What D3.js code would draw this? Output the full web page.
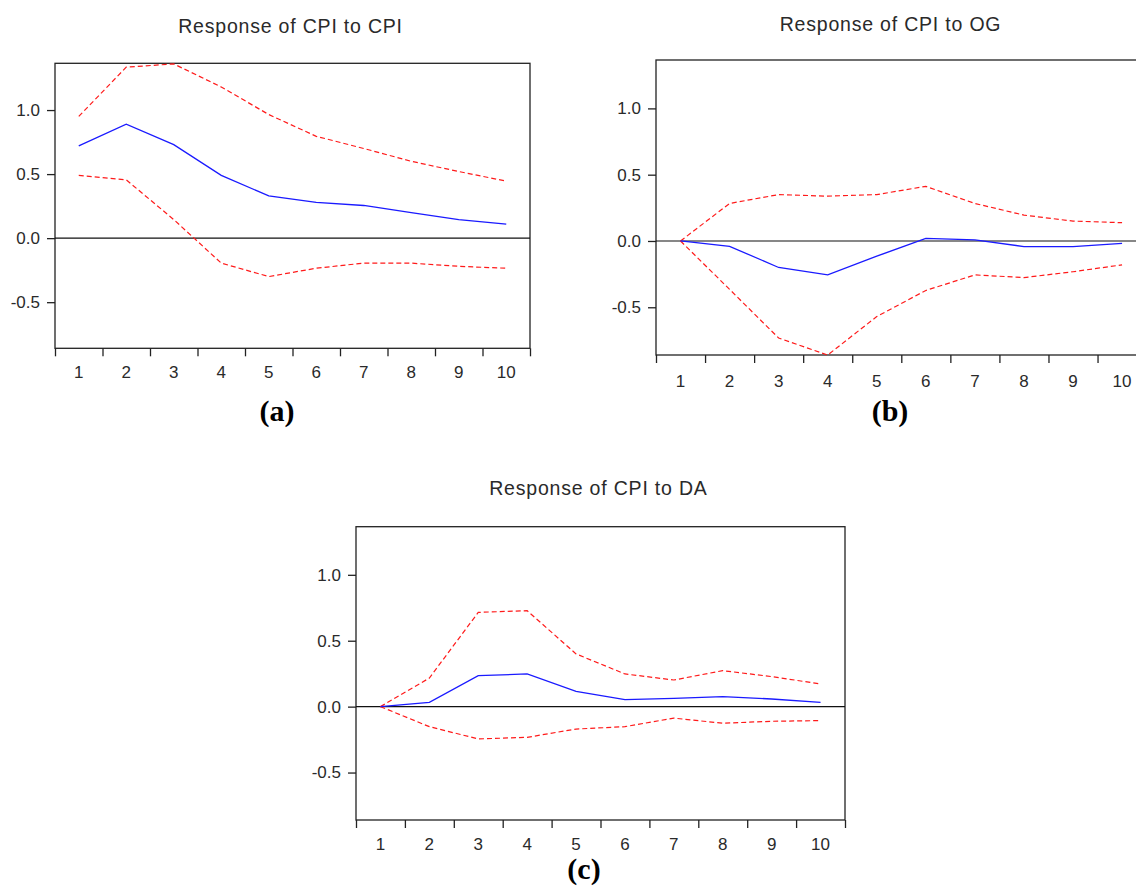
<!DOCTYPE html>
<html>
<head>
<meta charset="utf-8">
<script src="https://cdn.jsdelivr.net/npm/d3@7"></script>
<style>
  body { margin: 0; background: #fff; }
  svg { display: block; }
  .domain { display: none; }
</style>
</head>
<body>
<div id="chart"></div>
<script>
// Impulse responses (periods 1..10)
const periods = [1, 2, 3, 4, 5, 6, 7, 8, 9, 10];
const yTicks = [-0.5, 0.0, 0.5, 1.0];

const cpiToCpi = [0.72, 0.89, 0.73, 0.49, 0.33, 0.28, 0.255, 0.20, 0.145, 0.11];
const cpiToCpiUpper = [0.95, 1.335, 1.36, 1.18, 0.965, 0.795, 0.70, 0.60, 0.52, 0.445];
const cpiToCpiLower = [0.49, 0.455, 0.145, -0.195, -0.30, -0.235, -0.195, -0.195, -0.22, -0.235];

const cpiToOg = [0.0, -0.04, -0.20, -0.255, -0.115, 0.02, 0.008, -0.042, -0.042, -0.018];
const cpiToOgUpper = [0.0, 0.283, 0.35, 0.338, 0.35, 0.412, 0.283, 0.195, 0.15, 0.138];
const cpiToOgLower = [0.0, -0.365, -0.732, -0.86, -0.57, -0.373, -0.256, -0.276, -0.232, -0.18];

const cpiToDa = [0.0, 0.033, 0.235, 0.248, 0.116, 0.053, 0.063, 0.076, 0.058, 0.033];
const cpiToDaUpper = [0.0, 0.217, 0.715, 0.728, 0.40, 0.248, 0.202, 0.273, 0.228, 0.172];
const cpiToDaLower = [0.0, -0.152, -0.245, -0.233, -0.17, -0.152, -0.087, -0.126, -0.111, -0.106];

const panels = [
  { title: 'Response of CPI to CPI', label: '(a)', resp: cpiToCpi, upper: cpiToCpiUpper, lower: cpiToCpiLower,
    left: 55, right: 530, top: 63.3, bottom: 348.3, titleX: 290.5, titleY: 33.3, labelX: 277, labelY: 421, xPad: 17.5 },
  { title: 'Response of CPI to OG', label: '(b)', resp: cpiToOg, upper: cpiToOgUpper, lower: cpiToOgLower,
    left: 656, right: 1146.6, top: 60, bottom: 355, titleX: 890.5, titleY: 30.5, labelX: 890, labelY: 421, xPad: 19.5 },
  { title: 'Response of CPI to DA', label: '(c)', resp: cpiToDa, upper: cpiToDaUpper, lower: cpiToDaLower,
    left: 356, right: 845, top: 526.7, bottom: 820, titleX: 598.4, titleY: 495, labelX: 584, labelY: 879, xPad: 18 },
];

const width = 1136;
const height = 886;
const tickFont = '"Liberation Sans", Arial, sans-serif';
const fmt = (d) => d3.format('.1f')(d).replace('\u2212', '-');

const svg = d3.select('#chart').append('svg')
  .attr('width', width)
  .attr('height', height);

panels.forEach((p) => drawPanel(p));

function styleTicks(a) {
  a.selectAll('text')
    .attr('font-family', tickFont)
    .attr('font-size', '17px')
    .attr('fill', '#2a2a2a');
  a.selectAll('line').attr('stroke', '#222').attr('stroke-width', 1.3);
}

function drawPanel(p) {
  const g = svg.append('g');

  const x = d3.scaleBand().domain(periods).range([p.left, p.right]).padding(0);
  const xEdges = d3.scaleLinear().domain([0, periods.length]).range([p.left, p.right]);
  const y = d3.scaleLinear().domain([-0.86, 1.365]).range([p.bottom, p.top]);

  // frame
  g.append('rect')
    .attr('x', p.left)
    .attr('y', p.top)
    .attr('width', p.right - p.left)
    .attr('height', p.bottom - p.top)
    .attr('fill', 'none')
    .attr('stroke', '#222')
    .attr('stroke-width', 1.3);

  // y axis
  g.append('g')
    .attr('transform', `translate(${p.left},0)`)
    .call(d3.axisLeft(y).tickValues(yTicks).tickFormat(fmt).tickSize(8).tickPadding(7))
    .call(styleTicks);

  // x tick marks on band edges
  g.append('g')
    .attr('transform', `translate(0,${p.bottom})`)
    .call(d3.axisBottom(xEdges).tickValues(d3.range(0, periods.length + 1)).tickFormat('').tickSize(8))
    .call(styleTicks);

  // x labels in band centres
  g.append('g')
    .attr('transform', `translate(0,${p.bottom})`)
    .call(d3.axisBottom(x).tickSize(0).tickPadding(p.xPad))
    .call(styleTicks)
    .call((a) => a.selectAll('line').remove());

  // zero line
  g.append('line')
    .attr('x1', p.left)
    .attr('x2', p.right)
    .attr('y1', y(0))
    .attr('y2', y(0))
    .attr('stroke', '#111')
    .attr('stroke-width', 1.2);

  const line = d3.line()
    .x((d, i) => x(periods[i]) + x.bandwidth() / 2)
    .y((d) => y(d));

  [p.upper, p.lower].forEach((band) => {
    g.append('path')
      .datum(band)
      .attr('d', line)
      .attr('fill', 'none')
      .attr('stroke', '#ff1a1a')
      .attr('stroke-width', 1.2)
      .attr('stroke-dasharray', '5,3');
  });

  g.append('path')
    .datum(p.resp)
    .attr('d', line)
    .attr('fill', 'none')
    .attr('stroke', '#1a1aff')
    .attr('stroke-width', 1.3);

  // title
  svg.append('text')
    .attr('x', p.titleX)
    .attr('y', p.titleY)
    .attr('text-anchor', 'middle')
    .attr('font-family', tickFont)
    .attr('font-size', '19.5px')
    .attr('letter-spacing', '0.8px')
    .attr('fill', '#2a2a2a')
    .text(p.title);

  // panel label
  svg.append('text')
    .attr('x', p.labelX)
    .attr('y', p.labelY)
    .attr('text-anchor', 'middle')
    .attr('font-family', '"Liberation Serif", "Times New Roman", serif')
    .attr('font-weight', 'bold')
    .attr('font-size', '30px')
    .attr('fill', '#000')
    .text(p.label);
}
</script>
</body>
</html>
